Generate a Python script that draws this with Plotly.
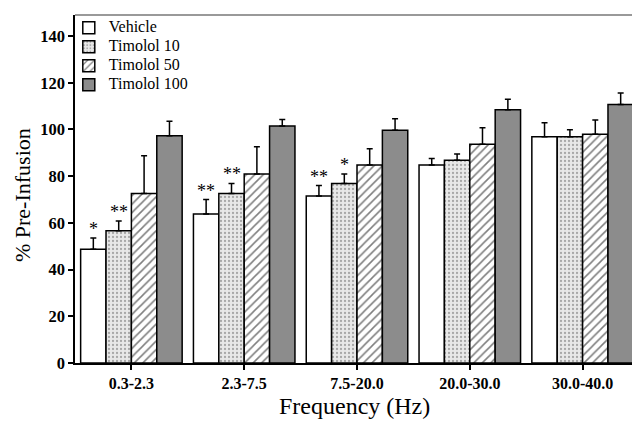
import plotly.graph_objects as go

categories = ["0.3-2.3", "2.3-7.5", "7.5-20.0", "20.0-30.0", "30.0-40.0"]
series_names = ["Vehicle", "Timolol 10", "Timolol 50", "Timolol 100"]
vehicle = [48.7, 63.8, 71.5, 84.8, 96.9]
vehicle_err = [4.8, 6.2, 4.5, 2.8, 6.0]
timolol10 = [56.6, 72.6, 76.9, 86.8, 96.9]
timolol10_err = [4.2, 4.3, 4.0, 2.7, 3.0]
timolol50 = [72.6, 80.9, 84.8, 93.7, 97.9]
timolol50_err = [16.1, 11.7, 6.9, 7.0, 6.1]
timolol100 = [97.3, 101.5, 99.7, 108.4, 110.7]
timolol100_err = [6.2, 2.8, 4.9, 4.5, 4.9]
# significance marks: (category index, series index, text)
sig_marks = [(0, 0, "*"), (0, 1, "**"), (1, 0, "**"), (1, 1, "**"), (2, 0, "**"), (2, 1, "*")]

values = [vehicle, timolol10, timolol50, timolol100]
errors = [vehicle_err, timolol10_err, timolol50_err, timolol100_err]
fills = ["white", "#e8e8e8", "white", "#8c8c8c"]
patterns = [dict(shape=""), dict(shape=".", fgcolor="#666666", size=4, solidity=0.25),
            dict(shape="/", fgcolor="black", size=6, solidity=0.26), dict(shape="")]

serif = "Liberation Serif, Times New Roman, serif"
fig = go.Figure()
for name, v, e, f, p in zip(series_names, values, errors, fills, patterns):
    fig.add_trace(go.Bar(
        name='<span style="font-size:16px">' + name + '</span>', x=categories, y=v,
        marker=dict(color=f, line=dict(color="black", width=1.5), pattern=p),
        error_y=dict(type="data", array=e, arrayminus=[0] * len(e), symmetric=False,
                     color="black", thickness=1.5, width=3),
    ))

ngroups = len(series_names)
bargap = 0.1
bw = (1 - bargap) / ngroups
annotations = []
for ci, si, txt in sig_marks:
    xpos = ci - (1 - bargap) / 2 + bw * (si + 0.5)
    ytop = values[si][ci] + errors[si][ci]
    annotations.append(dict(x=xpos, y=ytop, text=txt, showarrow=False, yanchor="bottom",
                            yshift=-3, font=dict(family=serif, size=18, color="black")))
# axis titles
annotations.append(dict(text="% Pre-Infusion", xref="paper", yref="paper", x=-0.092, y=0.483,
                        textangle=-90, showarrow=False, xanchor="center", yanchor="middle",
                        font=dict(family=serif, size=22, color="black")))
annotations.append(dict(text="Frequency (Hz)", xref="paper", yref="paper", x=0.495, y=-0.123,
                        showarrow=False, xanchor="center", yanchor="middle", borderpad=0,
                        font=dict(family=serif, size=24, color="black")))

# page body has an 8px margin, so the figure is sized to end at the window edge
fig.update_layout(
    barmode="group", bargap=bargap, bargroupgap=0,
    width=632, height=413, margin=dict(l=67, r=1, t=7, b=58),
    paper_bgcolor="white", plot_bgcolor="white",
    font=dict(family=serif, color="black"),
    legend=dict(x=-0.011, y=1.005, xanchor="left", yanchor="top", bgcolor="rgba(0,0,0,0)",
                font=dict(family=serif, size=10), tracegroupgap=0, itemwidth=30),
    annotations=annotations,
    xaxis=dict(range=[-0.5, 4.5], showline=True, linecolor="black", linewidth=1.5,
               ticks="outside", ticklen=5, tickwidth=1.5, tickcolor="black",
               tickfont=dict(family=serif, size=16, weight="bold")),
    yaxis=dict(range=[0, 149], showline=True, linecolor="black", linewidth=1.5,
               tickvals=[0, 20, 40, 60, 80, 100, 120, 140],
               ticks="outside", ticklen=5, tickwidth=1.5, tickcolor="black",
               showgrid=False, zeroline=False,
               tickfont=dict(family=serif, size=16.5, weight="bold")),
    shapes=[
        dict(type="line", xref="paper", yref="paper", x0=0, x1=1, y0=1, y1=1,
             line=dict(color="#999999", width=2)),
        dict(type="line", xref="paper", yref="paper", x0=1, x1=1, y0=0, y1=1,
             line=dict(color="#999999", width=1.5)),
    ],
)
fig.write_html("out.html")
